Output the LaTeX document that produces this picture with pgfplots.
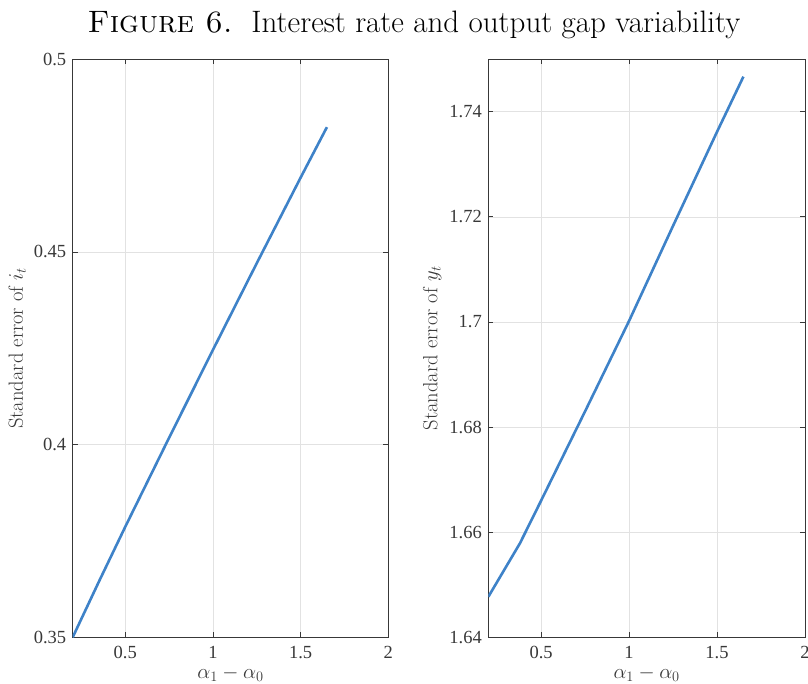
\documentclass[border=0pt]{standalone}
\usepackage{pgfplots}
\pgfplotsset{compat=1.18}
\usepackage{fontspec}
\newfontfamily\tickfont{Liberation Serif}
\definecolor{lineblue}{RGB}{62,130,200}
\definecolor{axgray}{RGB}{56,56,56}
\definecolor{gridgray}{RGB}{226,226,226}
\newcommand{\labfont}{\fontsize{20.5}{20.5}\selectfont}
\pgfplotsset{
  myax/.style={
    scale only axis,
    height=578pt,
    xmin=0.2, xmax=2,
    xtick={0.5,1,1.5,2},
    xticklabels={0.5,1,1.5,2},
    scaled ticks=false,
    axis line style={axgray, line width=0.9pt},
    tick style={axgray, line width=0.9pt},
    major tick length=5pt,
    tick align=inside,
    xtick pos=both, ytick pos=both,
    grid=major,
    major grid style={gridgray, line width=0.8pt},
    tick label style={font=\tickfont\fontsize{18.5}{18.5}\selectfont, text=axgray},
    xticklabel style={yshift=-5pt},
    yticklabel style={xshift=-3pt},
    /pgf/number format/assume math mode=true,
    xlabel={\labfont$\alpha_1-\alpha_0$},
    xlabel style={yshift=-1pt, text=axgray},
  }
}
\begin{document}
\begin{tikzpicture}
\useasboundingbox (0,0) rectangle (808pt,684pt);
\node[font=\fontsize{31}{36}\selectfont] at (414pt,659pt) {\textsc{Figure 6.}\ \ Interest rate and output gap variability};
\begin{axis}[myax, at={(72.7pt,46.7pt)}, anchor=south west, width=315.6pt,
  ymin=0.35, ymax=0.5,
  ytick={0.35,0.4,0.45,0.5},
  yticklabels={0.35,0.4,0.45,0.5},
  ylabel={\labfont Standard error of $i_t$},
  ylabel style={yshift=1pt, text=axgray}]
\addplot[lineblue, line width=2.6pt] coordinates {
(0.2,0.35) (0.35,0.3645) (0.5,0.3787) (0.75,0.4018) (1.0,0.4246)
(1.25,0.4471) (1.5,0.4693) (1.65,0.4824)};
\end{axis}
\begin{axis}[myax, at={(488.3pt,46.7pt)}, anchor=south west, width=316.7pt,
  ymin=1.64, ymax=1.75,
  ytick={1.64,1.66,1.68,1.70,1.72,1.74},
  yticklabels={1.64,1.66,1.68,1.7,1.72,1.74},
  ylabel={\labfont Standard error of $y_t$},
  ylabel style={yshift=1pt, text=axgray}]
\addplot[lineblue, line width=2.6pt] coordinates {
(0.2,1.6477) (0.38,1.6579) (0.5,1.6660) (0.75,1.6830) (1.0,1.7002)
(1.25,1.7183) (1.5,1.7362) (1.65,1.7467)};
\end{axis}
\end{tikzpicture}
\end{document}
